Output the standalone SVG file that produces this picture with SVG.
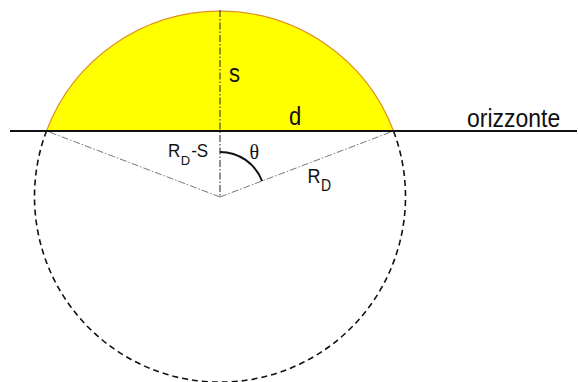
<svg xmlns="http://www.w3.org/2000/svg" width="578" height="382" viewBox="0 0 578 382">
  <style>
    .lbl { font-family: "Liberation Sans", Arial, sans-serif; fill: #111; }
    .dashdot { fill: none; stroke: #222; stroke-width: 1; stroke-dasharray: 7 2 1.5 2; }
    .radius { fill: none; stroke: #666; stroke-width: 0.9; stroke-dasharray: 7 2 1.5 2; }
  </style>
  <rect width="578" height="382" fill="#ffffff"/>
  <g id="segment">
    <path d="M46.5,131 A185.5,185.5 0 0 1 393.5,131 Z" fill="#ffff00" stroke="none"/>
    <path d="M46.5,131 A185.5,185.5 0 0 1 393.5,131" fill="none" stroke="#e0901e" stroke-width="1.2"/>
  </g>
  <g id="lower-circle">
    <path d="M46.5,131 A185.5,185.5 0 1 0 393.5,131" fill="none" stroke="#111" stroke-width="1.6" stroke-dasharray="6 4"/>
  </g>
  <g id="construction">
    <line class="dashdot" x1="220" y1="10" x2="220" y2="197"/>
    <line class="radius" x1="220" y1="197" x2="46.5" y2="131"/>
    <line class="radius" x1="220" y1="197" x2="393.5" y2="131"/>
    <path d="M220,152 A45,45 0 0 1 262.1,181" fill="none" stroke="#111" stroke-width="2"/>
  </g>
  <g id="horizon">
    <line x1="10" y1="131" x2="577" y2="131" stroke="#111" stroke-width="2"/>
  </g>
  <g id="labels">
    <text class="lbl" font-size="22" transform="translate(229,82) scale(1,1.15)">s</text>
    <text class="lbl" font-size="22" transform="translate(289,125) scale(1,1.15)">d</text>
    <text class="lbl" font-size="23" transform="translate(467,126.5) scale(1,1.12)">orizzonte</text>
    <text class="lbl" font-size="17" transform="translate(168,157.3) scale(1,1.05)">R<tspan font-size="13" dy="7" dx="0.5">D</tspan><tspan dy="-7" dx="1">-S</tspan></text>
    <text font-size="20" font-family="'Liberation Serif', 'Times New Roman', serif" fill="#111" transform="translate(249.5,158.5) scale(1,1.05)">θ</text>
    <text class="lbl" font-size="18" transform="translate(307.5,182.7) scale(1,1.12)">R<tspan font-size="14" dy="7" dx="0.5">D</tspan></text>
  </g>
</svg>
